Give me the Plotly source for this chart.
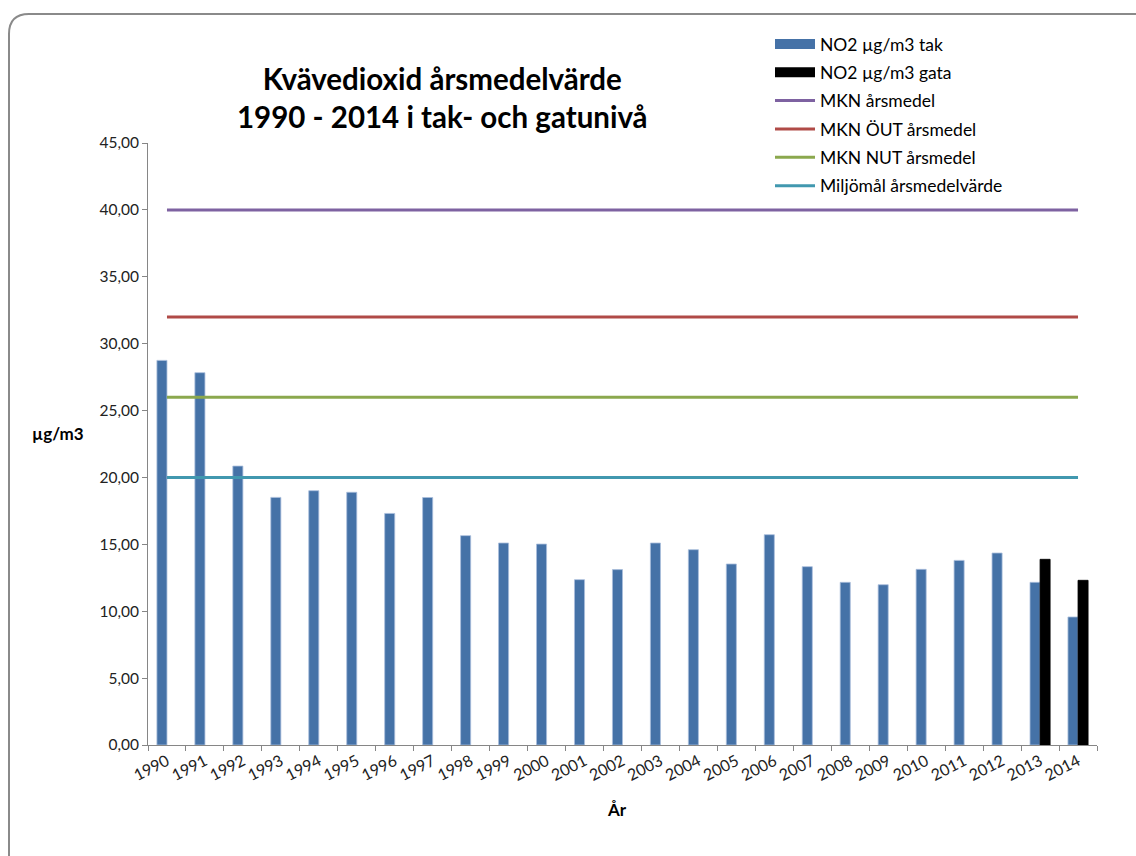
import plotly.graph_objects as go

# Årsmedelvärden för kvävedioxid, µg/m3
years = [str(y) for y in range(1990, 2015)]
no2_tak = [28.75, 27.83, 20.85, 18.51, 19.01, 18.89, 17.31, 18.50, 15.65, 15.10,
           15.02, 12.36, 13.11, 15.10, 14.60, 13.53, 15.72, 13.33, 12.16, 11.98,
           13.13, 13.80, 14.35, 12.16, 9.57]
no2_gata = [None] * 23 + [13.88, 12.31]

# Gränsvärden och miljömål
limit_names = ["MKN årsmedel", "MKN ÖUT årsmedel", "MKN NUT årsmedel", "Miljömål årsmedelvärde"]
limit_values = [40, 32, 26, 20]
limit_colors = ["#7E62A1", "#B04A47", "#8BA84E", "#4198AF"]

y_ticks = [0, 5, 10, 15, 20, 25, 30, 35, 40, 45]

FONT = "Lato, 'Open Sans', sans-serif"
TAK_COLOR = "#4572A7"
GATA_COLOR = "#000000"

fig = go.Figure()
fig.add_trace(go.Bar(x=years, y=no2_tak, name="NO2 µg/m3 tak",
                     marker=dict(color=TAK_COLOR, line=dict(color="#A9BEDC", width=0.8)),
                     showlegend=False))
fig.add_trace(go.Bar(x=years, y=no2_gata, name="NO2 µg/m3 gata",
                     marker=dict(color=GATA_COLOR, line=dict(color="#000000", width=0.8)),
                     showlegend=False))

# legend keys for the bar series, drawn as wide swatches
for i, (nm, col) in enumerate([("NO2 µg/m3 tak", TAK_COLOR), ("NO2 µg/m3 gata", GATA_COLOR)]):
    fig.add_trace(go.Scatter(x=[years[0]], y=[None], name=nm, mode="lines",
                             line=dict(color=col, width=10), legendgroup=f"b{i}"))

for i, (nm, val, col) in enumerate(zip(limit_names, limit_values, limit_colors)):
    fig.add_trace(go.Scatter(x=years, y=[val] * len(years), name=nm, mode="lines",
                             line=dict(color=col, width=3), legendgroup=f"l{i}"))

# plot area in pixels
L, R, T, B = 148, 1097, 143, 745
W, H = R - L, B - T


def px(x):
    return (x - L) / W


def py(y):
    return (B - y) / H


# rounded frame around the chart
x0, y0, rad = 9, 14, 20
x1, y1 = 1150, 870
frame = (f"M {px(x0)},{py(y1)} L {px(x0)},{py(y0 + rad)} "
         f"Q {px(x0)},{py(y0)} {px(x0 + rad)},{py(y0)} L {px(x1)},{py(y0)}")

fig.update_layout(
    width=1136, height=856,
    margin=dict(l=L, r=1136 - R, t=T, b=856 - B),
    paper_bgcolor="white", plot_bgcolor="white",
    separators=", ",
    font=dict(family=FONT, size=15, color="#222222"),
    barmode="group", bargap=0.47, bargroupgap=0,
    showlegend=True,
    legend=dict(x=px(770), y=py(26), xanchor="left", yanchor="top",
                font=dict(family=FONT, size=17.5, color="#000000"),
                traceorder="grouped", tracegroupgap=2.6, itemwidth=40,
                bgcolor="rgba(0,0,0,0)"),
    xaxis=dict(type="category", tickson="boundaries", ticks="outside", ticklen=5,
               tickcolor="#868686", showline=True, linecolor="#868686", linewidth=1,
               tickangle=-27, showgrid=False, tickfont=dict(size=16, color="#222222")),
    yaxis=dict(range=[0, 45], tickvals=y_ticks, tickformat=".2f", ticks="outside",
               ticklen=5, tickcolor="#868686", showline=True, linecolor="#868686",
               linewidth=1, showgrid=False, zeroline=False,
               tickfont=dict(size=15.5, color="#222222")),
    shapes=[dict(type="path", path=frame, xref="paper", yref="paper",
                 line=dict(color="#8A8A8A", width=2))],
    annotations=[
        dict(text="<b>Kvävedioxid årsmedelvärde<br>1990 - 2014 i tak- och gatunivå</b>",
             x=px(442), y=py(98), xref="paper", yref="paper", showarrow=False,
             xanchor="center", yanchor="middle",
             font=dict(family=FONT, size=29.5, color="#000000"), align="center"),
        dict(text="<b>µg/m3</b>", x=px(58), y=py(433), xref="paper", yref="paper",
             xanchor="center", yanchor="middle", showarrow=False,
             font=dict(family=FONT, size=17, color="#000000")),
        dict(text="<b>År</b>", x=px(617), y=py(809), xref="paper", yref="paper",
             xanchor="center", yanchor="middle", showarrow=False,
             font=dict(family=FONT, size=17, color="#000000")),
    ],
)

fig.write_html("out.html")
